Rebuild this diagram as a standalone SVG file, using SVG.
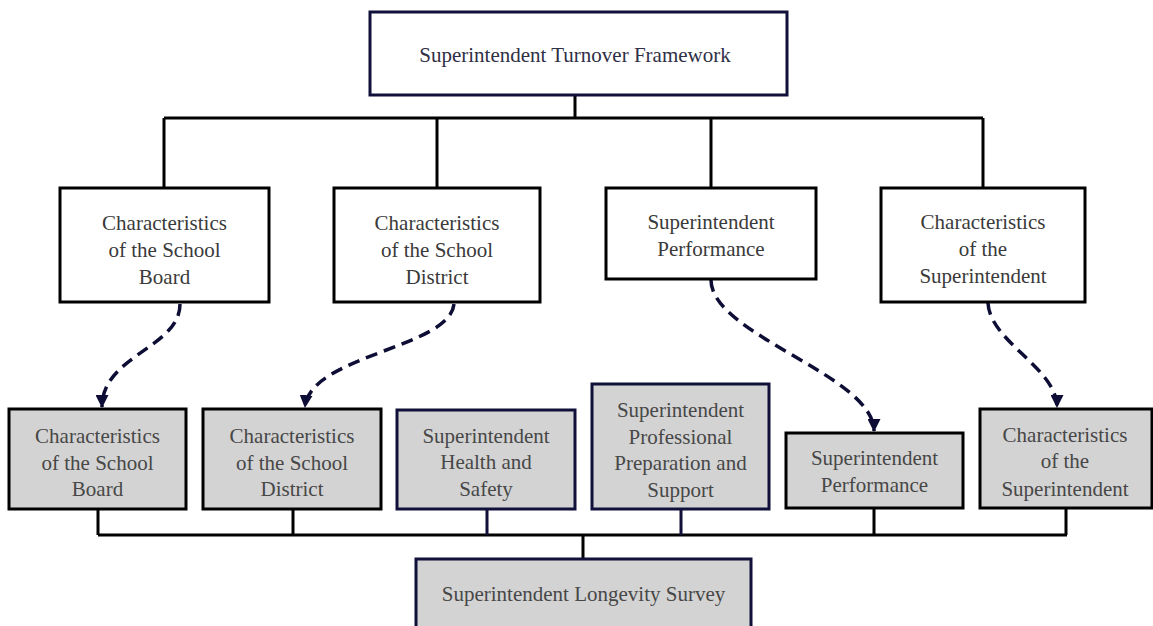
<svg xmlns="http://www.w3.org/2000/svg" width="1153" height="626" viewBox="0 0 1153 626" font-family="'Liberation Serif', 'Times New Roman', serif">
<style>
text{font-size:21px;text-anchor:middle}
.t1{fill:#2f2f45}
.t2{fill:#3a3a3a}
.t3{fill:#474747}
.wbox{fill:#fff;stroke:#000;stroke-width:3}
.nbox{fill:#fff;stroke:#10103a;stroke-width:3}
.gbox{fill:#d3d3d3;stroke:#000;stroke-width:3}
.gnbox{fill:#d3d3d3;stroke:#10103a;stroke-width:3}
.ln{fill:none;stroke:#000;stroke-width:3}
.lnn{fill:none;stroke:#10103a;stroke-width:3}
.dash{fill:none;stroke:#0d0d35;stroke-width:3.5;stroke-dasharray:12 7}
</style>
<defs>
<marker id="ah" viewBox="0 0 12 12" refX="11" refY="6" markerWidth="13" markerHeight="13" orient="auto" markerUnits="userSpaceOnUse">
<path d="M0,0 L12,6 L0,12 z" fill="#0d0d35"/>
</marker>
</defs>
<rect width="1153" height="626" fill="#fff"/>
<g id="connectors">
<path class="ln" d="M575,95 V118 M164,118 H983 M164,118 V188 M437,118 V188 M711,118 V188 M983,118 V188"/>
<path class="ln" d="M98,535 H1067 M98,509 V535 M293,509 V535 M874,508 V535 M1066,508 V535 M583,535 V558"/>
<path class="lnn" d="M487,509 V535 M681,509 V535"/>
<path class="dash" d="M180,304 C180,348 102,355 102,407" marker-end="url(#ah)"/>
<path class="dash" d="M454,304 C450,348 310,355 305,407" marker-end="url(#ah)"/>
<path class="dash" d="M711,280 C711,335 874,375 874,431" marker-end="url(#ah)"/>
<path class="dash" d="M988,303 C990,342 1057,368 1057,407" marker-end="url(#ah)"/>
</g>
<g id="top">
<rect class="nbox" x="370" y="12" width="417" height="83"/>
<text class="t1" x="575" y="62">Superintendent Turnover Framework</text>
</g>
<g id="n-board">
<rect class="wbox" x="60" y="188" width="209" height="114"/>
<text class="t2" x="164.5" y="230">Characteristics</text>
<text class="t2" x="164.5" y="257">of the School</text>
<text class="t2" x="164.5" y="284">Board</text>
</g>
<g id="n-district">
<rect class="wbox" x="334" y="188" width="206" height="114"/>
<text class="t2" x="437" y="230">Characteristics</text>
<text class="t2" x="437" y="257">of the School</text>
<text class="t2" x="437" y="284">District</text>
</g>
<g id="n-performance">
<rect class="wbox" x="606" y="188" width="210" height="91"/>
<text class="t2" x="711" y="229">Superintendent</text>
<text class="t2" x="711" y="256">Performance</text>
</g>
<g id="n-superintendent">
<rect class="wbox" x="881" y="188" width="204" height="114"/>
<text class="t2" x="983" y="229">Characteristics</text>
<text class="t2" x="983" y="256">of the</text>
<text class="t2" x="983" y="283">Superintendent</text>
</g>
<g id="s-board">
<rect class="gbox" x="9" y="409" width="177" height="100"/>
<text class="t3" x="97.5" y="443">Characteristics</text>
<text class="t3" x="97.5" y="470">of the School</text>
<text class="t3" x="97.5" y="496">Board</text>
</g>
<g id="s-district">
<rect class="gbox" x="203" y="409" width="178" height="100"/>
<text class="t3" x="292" y="443">Characteristics</text>
<text class="t3" x="292" y="470">of the School</text>
<text class="t3" x="292" y="496">District</text>
</g>
<g id="s-health">
<rect class="gnbox" x="397" y="410" width="178" height="99"/>
<text class="t3" x="486" y="443">Superintendent</text>
<text class="t3" x="486" y="469">Health and</text>
<text class="t3" x="486" y="496">Safety</text>
</g>
<g id="s-prep">
<rect class="gnbox" x="592" y="384" width="177" height="125"/>
<text class="t3" x="680.5" y="417">Superintendent</text>
<text class="t3" x="680.5" y="444">Professional</text>
<text class="t3" x="680.5" y="470">Preparation and</text>
<text class="t3" x="680.5" y="497">Support</text>
</g>
<g id="s-performance">
<rect class="gbox" x="786" y="433" width="177" height="75"/>
<text class="t3" x="874.5" y="465">Superintendent</text>
<text class="t3" x="874.5" y="492">Performance</text>
</g>
<g id="s-superintendent">
<rect class="gbox" x="980" y="409" width="172" height="99"/>
<text class="t3" x="1065" y="442">Characteristics</text>
<text class="t3" x="1065" y="468">of the</text>
<text class="t3" x="1065" y="496">Superintendent</text>
</g>
<g id="survey">
<rect class="gnbox" x="416" y="559" width="335" height="80"/>
<text class="t3" x="583.5" y="601">Superintendent Longevity Survey</text>
</g>
</svg>
